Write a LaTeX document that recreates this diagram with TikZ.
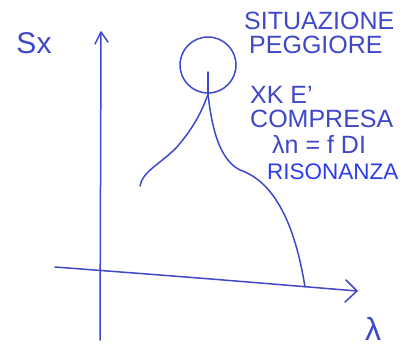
\documentclass[tikz,border=0pt]{standalone}
\usepackage{fontspec}
\setmainfont{Liberation Sans}
\usetikzlibrary{arrows.meta}
\definecolor{pen}{RGB}{62,72,200}
\definecolor{penb}{RGB}{45,60,235}
\tikzset{
  ink/.style={draw=pen, line width=1.5pt, line cap=round, line join=round},
  note/.style={text=pen, font=\fontsize{25}{27}\selectfont, inner sep=0pt, anchor=west},
}
\begin{document}
\begin{tikzpicture}[x=1pt,y=-1pt]
\useasboundingbox (0,0) rectangle (406,349);
% axes
\coordinate (ybot) at (100,340);
\coordinate (ytop) at (101,32);
\coordinate (xl) at (55,267);
\coordinate (xr) at (357,291);
\draw[ink] (ybot) -- (ytop);
\draw[ink] (95,44) -- (ytop) -- (108,42);
\draw[ink] (xl) .. controls (200,278) .. (xr);
\draw[ink] (346,280) -- (xr) -- (345,302);
% labels of axes
\node[text=pen, font=\fontsize{30}{30}\selectfont, inner sep=0pt] (sx) at (34,43) {Sx};
\node[text=pen, font=\fontsize{32}{32}\selectfont, inner sep=0pt] (lam) at (373,329) {λ};
% resonance curve
\node[ink, circle, minimum size=56pt, inner sep=0pt] (circ) at (208,65) {};
\coordinate (peak) at (208,72);
\coordinate (root) at (208,94);
\draw[ink] (peak) -- (root);
\draw[ink] (root) .. controls (202,112) and (192,130) .. (176,148)
  .. controls (160,164) and (142,172) .. (140,186);
\draw[ink] (root) .. controls (212,130) and (220,160) .. (240,170)
  .. controls (275,182) and (295,225) .. (305,287);
% notes
\node[note] (t1) at (244,21) {SITUAZIONE};
\node[note] (t2) at (249,45) {PEGGIORE};
\node[note] (t3) at (250,95) {XK E'};
\node[note] (t4) at (250,119) {COMPRESA};
\node[note] (t5) at (272,144) {λn = f DI};
\node[note, text=penb, font=\fontsize{22.5}{24}\selectfont] (t6) at (267,172) {RISONANZA};
\end{tikzpicture}
\end{document}
